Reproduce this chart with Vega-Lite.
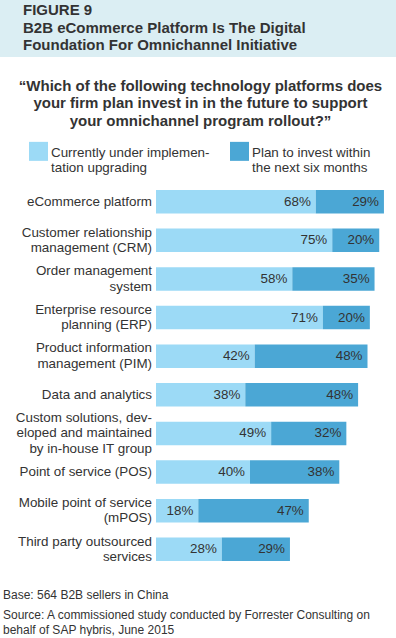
{
  "$schema": "https://vega.github.io/schema/vega-lite/v6.json",
  "padding": 0,
  "background": "white",
  "spacing": 21,
  "resolve": {"scale": {"color": "independent"}, "legend": {"color": "independent"}},
  "config": {"font": "Liberation Sans", "view": {"stroke": null}},
  "title": {
    "text": "Base: 564 B2B sellers in China",
    "subtitle": ["Source: A commissioned study conducted by Forrester Consulting on", "behalf of SAP hybris, June 2015"],
    "orient": "bottom", "anchor": "start", "frame": "bounds", "dx": 3, "offset": 22,
    "font": "Liberation Sans", "fontSize": 12, "fontWeight": "normal", "color": "#333",
    "subtitleFont": "Liberation Sans", "subtitleFontSize": 12, "subtitleColor": "#333", "subtitleLineHeight": 15, "subtitlePadding": 8
  },
  "vconcat": [
    {
      "width": 396,
      "height": 57,
      "title": {
        "text": ["FIGURE 9", "B2B eCommerce Platform Is The Digital", "Foundation For Omnichannel Initiative"],
        "anchor": "start", "frame": "group", "dx": 23, "offset": -53,
        "font": "Liberation Sans", "fontSize": 15, "fontWeight": "bold", "color": "#333", "lineHeight": 17.5
      },
      "data": {"values": [{"panel": "header"}]},
      "mark": {"type": "rect", "color": "#dbeef3"},
      "encoding": {}
    },
    {
      "width": 396,
      "height": 385,
      "title": {
        "text": ["“Which of the following technology platforms does", "your firm plan invest in in the future to support", "your omnichannel program rollout?”"],
        "anchor": "middle", "frame": "group", "dx": 2.5, "offset": 7,
        "font": "Liberation Sans", "fontSize": 15, "fontWeight": "bold", "color": "#333", "lineHeight": 17.7
      },
      "data": {"values": [
        {"platform": "eCommerce platform", "order": 1, "series": "Currently under implemen-|tation upgrading", "s": 1, "share": 0.68},
        {"platform": "eCommerce platform", "order": 1, "series": "Plan to invest within|the next six months", "s": 2, "share": 0.29},
        {"platform": "Customer relationship|management (CRM)", "order": 2, "series": "Currently under implemen-|tation upgrading", "s": 1, "share": 0.75},
        {"platform": "Customer relationship|management (CRM)", "order": 2, "series": "Plan to invest within|the next six months", "s": 2, "share": 0.20},
        {"platform": "Order management|system", "order": 3, "series": "Currently under implemen-|tation upgrading", "s": 1, "share": 0.58},
        {"platform": "Order management|system", "order": 3, "series": "Plan to invest within|the next six months", "s": 2, "share": 0.35},
        {"platform": "Enterprise resource|planning (ERP)", "order": 4, "series": "Currently under implemen-|tation upgrading", "s": 1, "share": 0.71},
        {"platform": "Enterprise resource|planning (ERP)", "order": 4, "series": "Plan to invest within|the next six months", "s": 2, "share": 0.20},
        {"platform": "Product information|management (PIM)", "order": 5, "series": "Currently under implemen-|tation upgrading", "s": 1, "share": 0.42},
        {"platform": "Product information|management (PIM)", "order": 5, "series": "Plan to invest within|the next six months", "s": 2, "share": 0.48},
        {"platform": "Data and analytics", "order": 6, "series": "Currently under implemen-|tation upgrading", "s": 1, "share": 0.38},
        {"platform": "Data and analytics", "order": 6, "series": "Plan to invest within|the next six months", "s": 2, "share": 0.48},
        {"platform": "Custom solutions, dev-|eloped and maintained|by in-house IT group", "order": 7, "series": "Currently under implemen-|tation upgrading", "s": 1, "share": 0.49},
        {"platform": "Custom solutions, dev-|eloped and maintained|by in-house IT group", "order": 7, "series": "Plan to invest within|the next six months", "s": 2, "share": 0.32},
        {"platform": "Point of service (POS)", "order": 8, "series": "Currently under implemen-|tation upgrading", "s": 1, "share": 0.40},
        {"platform": "Point of service (POS)", "order": 8, "series": "Plan to invest within|the next six months", "s": 2, "share": 0.38},
        {"platform": "Mobile point of service|(mPOS)", "order": 9, "series": "Currently under implemen-|tation upgrading", "s": 1, "share": 0.18},
        {"platform": "Mobile point of service|(mPOS)", "order": 9, "series": "Plan to invest within|the next six months", "s": 2, "share": 0.47},
        {"platform": "Third party outsourced|services", "order": 10, "series": "Currently under implemen-|tation upgrading", "s": 1, "share": 0.28},
        {"platform": "Third party outsourced|services", "order": 10, "series": "Plan to invest within|the next six months", "s": 2, "share": 0.29}
      ]},
      "transform": [
        {"stack": "share", "groupby": ["platform"], "sort": [{"field": "s", "order": "ascending"}], "as": ["x0", "x1"]}
      ],
      "encoding": {
        "y": {
          "field": "platform", "type": "nominal",
          "sort": {"field": "order", "op": "min"},
          "scale": {"paddingInner": 0.39, "paddingOuter": 0.18},
          "axis": null
        }
      },
      "layer": [
        {
          "mark": {"type": "bar"},
          "encoding": {
            "x": {"field": "x0", "type": "quantitative", "scale": {"domain": [0, 1], "nice": false, "range": [156, 391]}, "axis": null},
            "x2": {"field": "x1"},
            "color": {
              "field": "series", "type": "nominal",
              "scale": {"domain": ["Currently under implemen-|tation upgrading", "Plan to invest within|the next six months"], "range": ["#9cdaf6", "#4ba7d5"]},
              "legend": {
                "orient": "none", "legendX": 29, "legendY": -47,
                "direction": "horizontal", "columns": 2, "columnPadding": 20,
                "title": null, "symbolType": "M-1,-0.42H1V1.58H-1Z", "symbolSize": 361, "symbolStrokeWidth": 0, "symbolOpacity": 1,
                "labelFont": "Liberation Sans", "labelFontSize": 13.4, "labelColor": "#333", "labelOffset": 3,
                "labelExpr": "split(datum.label, '|')", "labelLimit": 0, "labelLineHeight": 15.5, "labelBaseline": "top"
              }
            }
          }
        },
        {
          "mark": {"type": "text", "align": "right", "baseline": "middle", "dx": -5, "font": "Liberation Sans", "fontSize": 13.4, "color": "#333"},
          "encoding": {
            "x": {"field": "x1", "type": "quantitative"},
            "text": {"field": "share", "type": "quantitative", "format": ".0%"}
          }
        },
        {
          "transform": [{"filter": "datum.s == 1"}],
          "mark": {
            "type": "text", "align": "right", "baseline": "middle", "dx": -4,
            "font": "Liberation Sans", "fontSize": 13.4, "color": "#333", "lineHeight": 15.5,
            "text": {"expr": "split(datum.platform, '|')"},
            "dy": {"expr": "-(length(split(datum.platform, '|')) - 1) * 7.75"}
          },
          "encoding": {
            "x": {"datum": 0, "type": "quantitative"}
          }
        }
      ]
    }
  ]
}
